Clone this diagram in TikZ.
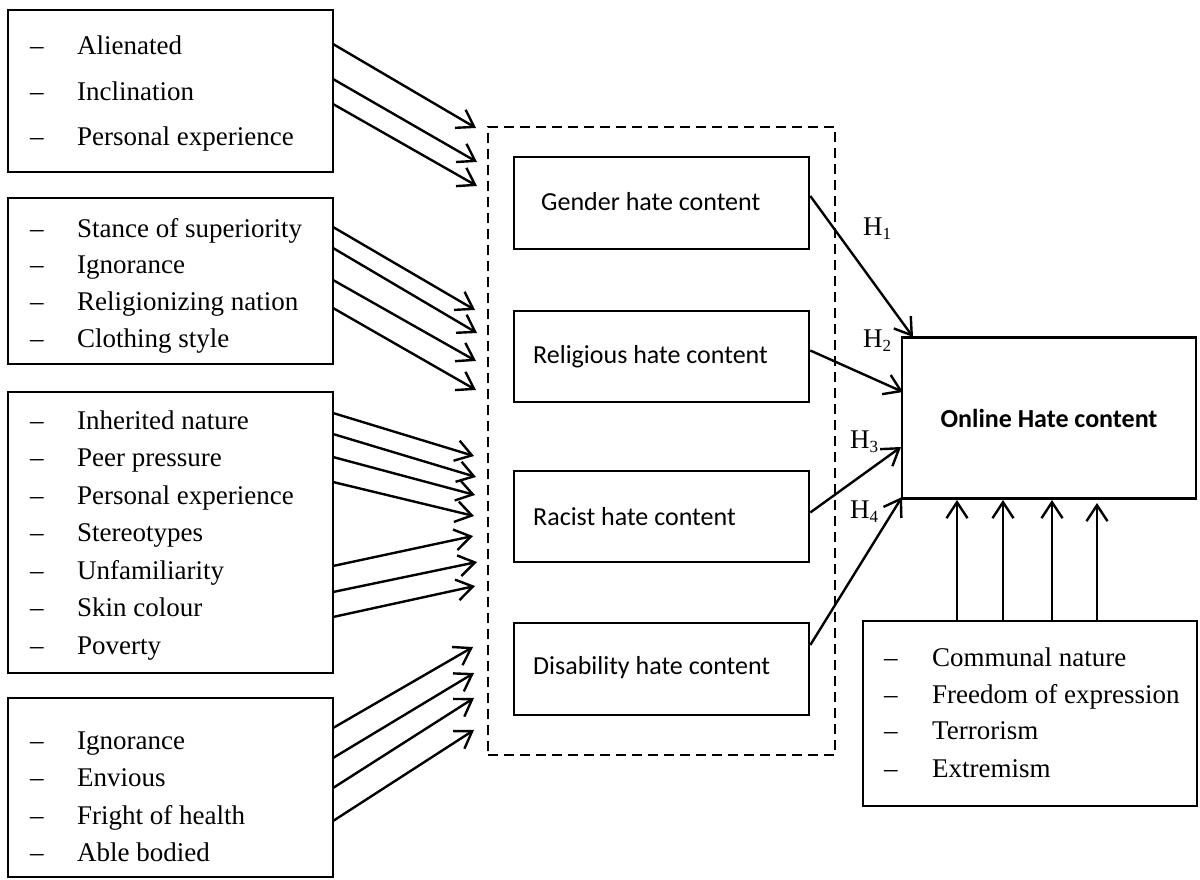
\documentclass[tikz,border=0pt]{standalone}
\usepackage{fontspec}
\setmainfont{Liberation Serif}
\newfontfamily\calib{Carlito}
\usetikzlibrary{arrows.meta,calc}
\newcommand\bigtxt{\fontsize{27}{32}\selectfont}
\newcommand\caltxt{\calib\fontsize{26}{31}\selectfont}
\begin{document}
\begin{tikzpicture}[x=1pt,y=-1pt,
  frame/.style={draw,line width=2.6pt,inner sep=0pt},
  grpbox/.style={draw,line width=2.4pt,dash pattern=on 10pt off 6pt,inner sep=0pt},
  item/.style={anchor=base west,inner sep=0pt,font=\bigtxt},
  inner/.style={anchor=west,inner sep=0pt,font=\caltxt},
  hl/.style={anchor=base west,inner sep=0pt,font=\bigtxt},
  arr/.style={line width=2.4pt,-{Straight Barb[length=16pt,width=21pt,line width=2.4pt]}}]
\useasboundingbox (0,0) rectangle (1200,880);

% left boxes
\node[frame,minimum width=325pt,minimum height=162pt] (b1) at (170.5,91) {};
\node[frame,minimum width=325pt,minimum height=166pt] (b2) at (170.5,281) {};
\node[frame,minimum width=325pt,minimum height=281pt] (b3) at (170.5,532.5) {};
\node[frame,minimum width=325pt,minimum height=179pt] (b4) at (170.5,787.5) {};

\foreach \y/\t [count=\i] in {55/Alienated,101/Inclination,146/Personal experience}
  {\node[item] (da\i) at (30,\y) {–}; \node[item] (ta\i) at (77,\y) {\t};}
\foreach \y/\t [count=\i] in {237/Stance of superiority,273/Ignorance,310/Religionizing nation,347/Clothing style}
  {\node[item] (db\i) at (30,\y) {–}; \node[item] (tb\i) at (77,\y) {\t};}
\foreach \y/\t [count=\i] in {429/Inherited nature,466.5/Peer pressure,504/Personal experience,541.5/Stereotypes,579/Unfamiliarity,616.5/Skin colour,654/Poverty}
  {\node[item] (dc\i) at (30,\y) {–}; \node[item] (tc\i) at (77,\y) {\t};}
\foreach \y/\t [count=\i] in {749/Ignorance,786/Envious,824/Fright of health,861/Able bodied}
  {\node[item] (dd\i) at (30,\y) {–}; \node[item] (td\i) at (77,\y) {\t};}

% dashed group
\node[grpbox,minimum width=347pt,minimum height=628pt] (grp) at (661.5,441) {};

% inner boxes
\node[frame,minimum width=295pt,minimum height=92pt] (gen) at (661.5,203) {};
\node[frame,minimum width=295pt,minimum height=91pt] (rel) at (661.5,356.5) {};
\node[frame,minimum width=295pt,minimum height=91pt] (rac) at (661.5,516.5) {};
\node[frame,minimum width=295pt,minimum height=92pt] (dis) at (661.5,669) {};
\node[inner] (gent) at (541,202) {Gender hate content};
\node[inner] (relt) at (533,357) {Religious hate content};
\node[inner] (ract) at (533,517) {Racist hate content};
\node[inner] (dist) at (533,668) {Disability hate content};

% online hate box
\node[frame,minimum width=294pt,minimum height=161pt,font=\caltxt\bfseries] (onl) at (1049,418) {Online Hate content};

% bottom right box
\node[frame,minimum width=334pt,minimum height=185pt] (br) at (1030,713.5) {};
\foreach \y/\t [count=\i] in {666/Communal nature,703/Freedom of expression,739/Terrorism,777/Extremism}
  {\node[item] (de\i) at (884,\y) {–}; \node[item] (te\i) at (932,\y) {\t};}

% arrows into the group
\foreach \n/\sy/\ex/\ey in {a1/44/476/128,a2/79/477/162,a3/104/477/186,
  b1/227/475/310,b2/248/477/333,b3/280/476/361,b4/308/476/390,
  c1/413/474/456,c2/434/476/477,c3/457/475/495,c4/482/474/516,
  c5/566/473/536,c6/592/477/562,c7/617/475/586,
  d1/728/473/647,d2/758/474/673,d3/788/474/698,d4/821/474/730}
  {\coordinate (s\n) at (333,\sy); \coordinate (e\n) at (\ex,\ey);
   \draw[arr] (s\n) -- (e\n);}

% hypothesis arrows
\coordinate (h1e) at (913,337);
\coordinate (h2e) at (903,392);
\coordinate (h3e) at (901,447);
\coordinate (h4e) at (902,497);
\draw[arr] ($(gen.east)+(0,-7)$) -- (h1e);
\draw[arr] ($(rel.east)+(0,-6)$) -- (h2e);
\draw[arr] ($(rac.east)+(0,-4)$) -- (h3e);
\draw[arr] ($(dis.east)+(0,-24)$) -- (h4e);
\node[hl] (H1) at (863,235) {H\raisebox{-4pt}{\fontsize{17}{17}\selectfont 1}};
\node[hl] (H2) at (863,347) {H\raisebox{-4pt}{\fontsize{17}{17}\selectfont 2}};
\node[hl] (H3) at (850,448) {H\raisebox{-4pt}{\fontsize{17}{17}\selectfont 3}};
\node[hl] (H4) at (850,518) {H\raisebox{-4pt}{\fontsize{17}{17}\selectfont 4}};

% moderator arrows
\foreach \x/\t [count=\i] in {957/500,1003/500,1052/500,1097/503}
  {\coordinate (m\i) at (\x,\t); \draw[arr] (br.north -| m\i) -- (m\i);}
\end{tikzpicture}
\end{document}
